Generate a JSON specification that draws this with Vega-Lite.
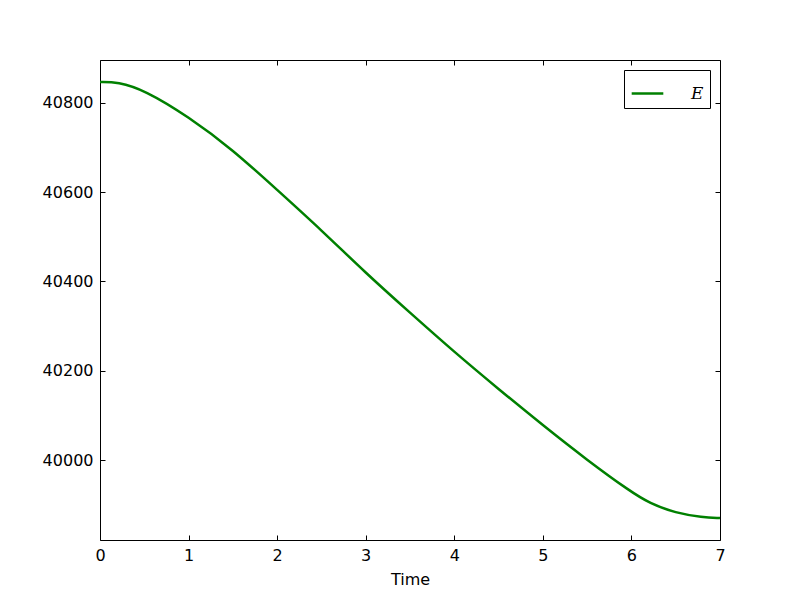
{
  "$schema": "https://vega.github.io/schema/vega-lite/v6.json",
  "width": 620,
  "height": 480,
  "autosize": "none",
  "padding": {"left": 100, "top": 60, "right": 80, "bottom": 60},
  "background": "white",
  "config": {
    "view": {"stroke": "black", "strokeWidth": 1},
    "font": "DejaVu Sans",
    "axis": {
      "domain": false, "grid": false, "tickColor": "black", "tickSize": -5,
      "labelFontSize": 16, "labelColor": "black", "labelFont": "DejaVu Sans",
      "labelFlush": false, "labelOverlap": false, "labelBound": false,
      "titleFontSize": 16, "titleFontWeight": "normal", "titleColor": "black", "titleFont": "DejaVu Sans"
    }
  },
  "data": {"values": [
    {"t": 0, "v": 40847, "s": "E"},
    {"t": 0.2, "v": 40847, "s": "E"},
    {"t": 0.5, "v": 40829, "s": "E"},
    {"t": 1, "v": 40769, "s": "E"},
    {"t": 1.5, "v": 40695, "s": "E"},
    {"t": 2, "v": 40605, "s": "E"},
    {"t": 2.5, "v": 40515, "s": "E"},
    {"t": 3, "v": 40419, "s": "E"},
    {"t": 3.5, "v": 40330, "s": "E"},
    {"t": 4, "v": 40242, "s": "E"},
    {"t": 4.5, "v": 40159, "s": "E"},
    {"t": 5, "v": 40078, "s": "E"},
    {"t": 5.5, "v": 40000, "s": "E"},
    {"t": 6, "v": 39928, "s": "E"},
    {"t": 6.2, "v": 39904, "s": "E"},
    {"t": 6.5, "v": 39881, "s": "E"},
    {"t": 6.8, "v": 39872, "s": "E"},
    {"t": 7, "v": 39870, "s": "E"}
  ]},
  "layer": [
    {
      "mark": {"type": "line", "strokeWidth": 2.5, "interpolate": "basis"},
      "encoding": {
        "x": {"field": "t", "type": "quantitative", "title": "Time",
              "scale": {"domain": [0, 7], "nice": false, "zero": false},
              "axis": {"values": [0,1,2,3,4,5,6,7], "labelPadding": 12, "titlePadding": 8}},
        "y": {"field": "v", "type": "quantitative", "title": null,
              "scale": {"domain": [39821, 40896], "nice": false, "zero": false},
              "axis": {"values": [40000, 40200, 40400, 40600, 40800], "format": "d", "labelPadding": 12}},
        "color": {"field": "s", "type": "nominal",
                  "scale": {"range": ["#008000"]},
                  "legend": {"title": null, "orient": "top-right", "offset": 10,
                             "symbolType": "stroke", "symbolSize": 1000, "symbolStrokeWidth": 2.5,
                             "strokeColor": "black", "fillColor": "white", "padding": 6, "cornerRadius": 0,
                             "labelFont": "DejaVu Serif", "labelFontStyle": "italic", "labelFontSize": 17,
                             "labelColor": "black", "labelOffset": 26}}
      }
    },
    {
      "mark": {"type": "line", "opacity": 0},
      "encoding": {
        "x": {"field": "t", "type": "quantitative",
              "scale": {"domain": [0, 7], "nice": false, "zero": false},
              "axis": {"orient": "top", "values": [0,1,2,3,4,5,6,7], "labels": false, "title": null}},
        "y": {"field": "v", "type": "quantitative",
              "scale": {"domain": [39821, 40896], "nice": false, "zero": false},
              "axis": {"orient": "right", "values": [40000, 40200, 40400, 40600, 40800], "labels": false, "title": null}}
      }
    }
  ],
  "resolve": {"axis": {"x": "independent", "y": "independent"}}
}
